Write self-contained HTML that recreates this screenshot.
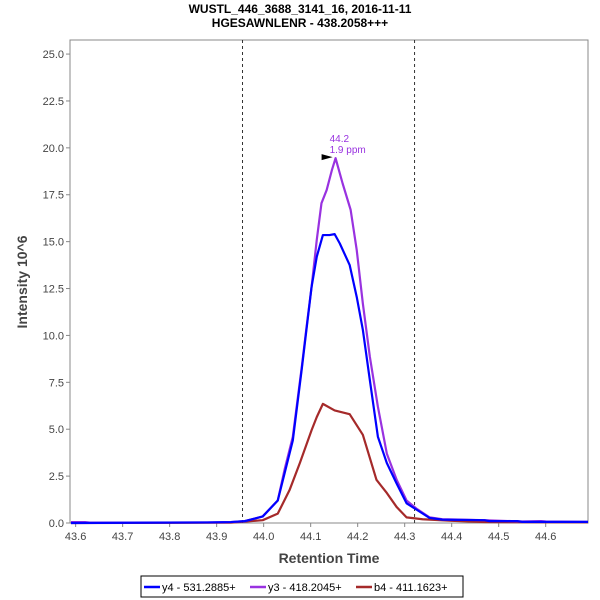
<!DOCTYPE html>
<html><head><meta charset="utf-8"><style>
body{margin:0;background:#fff;}
svg{display:block;font-family:"Liberation Sans",sans-serif;}
</style></head><body>
<svg id="chart" width="600" height="600">
<text x="300" y="13" text-anchor="middle" font-size="12" font-weight="bold">WUSTL_446_3688_3141_16, 2016-11-11</text>
<text x="300" y="27" text-anchor="middle" font-size="12" font-weight="bold">HGESAWNLENR - 438.2058+++</text>
<rect x="70" y="40" width="518" height="483" fill="#fff" stroke="#888"/>
<g id="axes"></g>
<g id="series"></g>
<text x="329" y="563" text-anchor="middle" font-size="14" font-weight="bold" fill="#444">Retention Time</text>
<text transform="translate(27,282) rotate(-90)" text-anchor="middle" font-size="14" font-weight="bold" fill="#444">Intensity 10^6</text>
<g>
<rect x="141" y="576" width="322" height="21" fill="#fff" stroke="#000"/>
<line x1="144" y1="587" x2="160" y2="587" stroke="#0000ff" stroke-width="2.5"/>
<text x="162" y="591" font-size="11">y4 - 531.2885+</text>
<line x1="250" y1="587" x2="266" y2="587" stroke="#9932e0" stroke-width="2.5"/>
<text x="268" y="591" font-size="11">y3 - 418.2045+</text>
<line x1="356" y1="587" x2="372" y2="587" stroke="#a52a2a" stroke-width="2.5"/>
<text x="374" y="591" font-size="11">b4 - 411.1623+</text>
</g>
</svg>
<script>
const xTicks=[43.6,43.7,43.8,43.9,44.0,44.1,44.2,44.3,44.4,44.5,44.6];
const yTicks=[0,2.5,5,7.5,10,12.5,15,17.5,20,22.5,25];
const boundaries=[43.955,44.321];
const y4Times=[43.59,43.88,43.93,43.96,43.998,44.03,44.045,44.062,44.081,44.091,44.102,44.113,44.126,44.14,44.151,44.162,44.183,44.198,44.211,44.226,44.243,44.262,44.283,44.304,44.326,44.353,44.38,44.47,44.48,44.54,44.55,44.69];
const y4Vals=[0,0.03,0.05,0.1,0.35,1.2,2.7,4.4,8.2,10.3,12.6,14.2,15.35,15.35,15.4,14.9,13.75,12.05,10.3,7.6,4.6,3.2,2.1,1.05,0.7,0.27,0.18,0.15,0.1,0.1,0.06,0.06];
const y3Times=[43.59,43.62,43.63,43.88,43.93,43.96,43.998,44.03,44.045,44.062,44.081,44.091,44.102,44.113,44.123,44.134,44.145,44.153,44.168,44.185,44.198,44.211,44.226,44.243,44.262,44.283,44.304,44.326,44.353,44.38,44.47,44.55,44.59,44.6,44.69];
const y3Vals=[0.05,0.05,0.02,0.03,0.05,0.1,0.35,1.2,2.9,4.6,8.3,10.4,12.6,15.1,17.05,17.75,18.8,19.45,18.1,16.7,14.55,11.7,8.85,6.2,3.7,2.3,1.2,0.75,0.3,0.2,0.15,0.08,0.1,0.08,0.06];
const b4Times=[43.59,43.93,43.998,44.03,44.055,44.077,44.102,44.113,44.126,44.151,44.183,44.211,44.24,44.262,44.283,44.304,44.338,44.4,44.47,44.69];
const b4Vals=[0,0.02,0.15,0.5,1.75,3.2,4.95,5.65,6.35,6.0,5.8,4.7,2.3,1.6,0.85,0.3,0.2,0.12,0.05,0.04];
const peakTime=44.153, peakVal=19.45;

const NS="http://www.w3.org/2000/svg";
const X0=70,X1=588,Y0=523,Y1=40;
const xMin=43.588,xMax=44.69,yMin=0,yMax=25.75;
function sx(t){return X0+(t-xMin)/(xMax-xMin)*(X1-X0);}
function sy(v){return Y0-(v-yMin)/(yMax-yMin)*(Y0-Y1);}
function mk(tag,attrs,parent){const e=document.createElementNS(NS,tag);for(const k in attrs)e.setAttribute(k,attrs[k]);parent.appendChild(e);return e;}
const axes=document.getElementById('axes');
const series=document.getElementById('series');
xTicks.forEach(t=>{
  const x=sx(t);
  const tk=mk('line',{x1:x,y1:Y0,x2:x,y2:Y0+4,stroke:'#888'},axes);
  
  
  const l=mk('text',{x:x,y:Y0+17,'text-anchor':'middle','font-size':'11',fill:'#444'},axes);
  l.textContent=t.toFixed(1);
  
  
});
yTicks.forEach(v=>{
  const y=sy(v);
  const tk=mk('line',{x1:X0-4,y1:y,x2:X0,y2:y,stroke:'#888'},axes);
  
  
  const l=mk('text',{x:X0-6,y:y+4,'text-anchor':'end','font-size':'11',fill:'#444'},axes);
  l.textContent=v.toFixed(1);
  
  
});
boundaries.forEach(t=>{
  const l=mk('line',{x1:sx(t),y1:Y1,x2:sx(t),y2:Y0,stroke:'#333','stroke-dasharray':'3,3'},axes);
  
  
});
function drawSeries(ts,vs,color,name){
  const p=mk('polyline',{points:ts.map((t,i)=>sx(t)+','+sy(vs[i])).join(' '),fill:'none',stroke:color,'stroke-width':'2.2','stroke-linejoin':'round'},series);
  
  
}
drawSeries(b4Times,b4Vals,'#a52a2a','series-b4');
drawSeries(y3Times,y3Vals,'#9932e0','series-y3');
drawSeries(y4Times,y4Vals,'#0000ff','series-y4');
const px=sx(peakTime),py=sy(peakVal);
const arr=mk('polygon',{points:(px-14)+','+(py-4)+' '+(px-3)+','+(py-1)+' '+(px-14)+','+(py+2),fill:'#000'},series);


const a1=mk('text',{x:px-6,y:py-16,'font-size':'10',fill:'#9932e0'},series);
a1.textContent='44.2';


const a2=mk('text',{x:px-6,y:py-5,'font-size':'10',fill:'#9932e0'},series);
a2.textContent='1.9 ppm';


</script>
</body></html>
